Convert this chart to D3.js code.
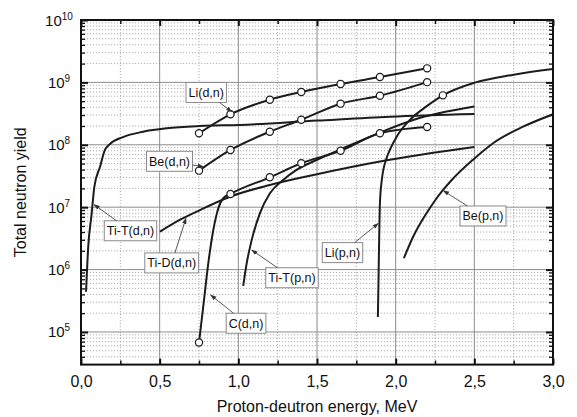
<!DOCTYPE html>
<html><head><meta charset="utf-8">
<script src="https://cdn.jsdelivr.net/npm/d3@7"></script>
<style>body{margin:0;background:#fff} svg{display:block} text{font-family:"Liberation Sans",Arial,sans-serif;fill:#111}</style>
</head><body>
<svg id="c" width="577" height="417"></svg>
<script>
// ---------- data ----------
const xMajorTicks = [0, 0.5, 1.0, 1.5, 2.0, 2.5, 3.0];
const xMinorTicks = [0.25, 0.75, 1.25, 1.75, 2.25, 2.75];
const yMajorExponents = [5, 6, 7, 8, 9, 10];

const markerE   = [0.75, 0.95, 1.2, 1.4, 1.65, 1.9, 2.2];
const liDnYield = [1.53e8, 3.08e8, 5.28e8, 7.0e8, 9.4e8, 1.22e9, 1.68e9];
const beDnYield = [3.85e7, 8.26e7, 1.62e8, 2.52e8, 4.56e8, 6.12e8, 1.01e9];
const cDnYield  = [6.8e4, 1.63e7, 3.01e7, 5.05e7, 8.04e7, 1.53e8, 1.93e8];
// steep rise of C(d,n) between first two markers
const cDnRiseE  = [0.777, 0.809, 0.841, 0.873, 0.904];
const cDnRiseY  = [2.54e5, 1.26e6, 4.31e6, 9.6e6, 1.39e7];

const tiTdnE = [0.032, 0.046, 0.068, 0.085, 0.121, 0.152, 0.184, 0.267, 0.394, 0.544, 0.756, 1.01, 1.5, 1.963, 2.5];
const tiTdnY = [4.4e5, 2.33e6, 7.98e6, 2.13e7, 4.46e7, 8.26e7, 1.03e8, 1.33e8, 1.62e8, 1.84e8, 2.0e8, 2.08e8, 2.44e8, 2.82e8, 3.12e8];

const tiDdnE = [0.502, 0.63, 0.756, 0.947, 1.2, 1.5, 1.9, 2.5];
const tiDdnY = [4.05e6, 6.3e6, 9.0e6, 1.47e7, 2.27e7, 3.38e7, 5.4e7, 9.2e7];

const tiTpnE = [1.031, 1.053, 1.085, 1.137, 1.201, 1.285, 1.370, 1.497, 1.688, 1.90, 2.111, 2.5];
const tiTpnY = [5.5e5, 1.26e6, 2.98e6, 7.98e6, 1.67e7, 2.73e7, 3.95e7, 5.7e7, 9.3e7, 1.57e8, 2.5e8, 4.1e8];

const liPnE = [1.887, 1.891, 1.895, 1.900, 1.912, 1.942, 1.963, 2.01, 2.09, 2.20, 2.30, 2.503, 2.75, 3.0];
const liPnY = [1.74e5, 6.8e5, 2.98e6, 1.17e7, 2.73e7, 6.1e7, 8.26e7, 1.4e8, 2.5e8, 4.2e8, 6.2e8, 9.9e8, 1.33e9, 1.64e9];
const liPnMarkerE = [2.30];
const liPnMarkerY = [6.2e8];

const bePnE = [2.052, 2.111, 2.196, 2.249, 2.30, 2.355, 2.492, 2.619, 2.81, 3.0];
const bePnY = [1.52e6, 3.36e6, 8.0e6, 1.27e7, 1.87e7, 2.7e7, 5.77e7, 1.06e8, 1.95e8, 3.08e8];

const labelNames = ["Li(d,n)", "Be(d,n)", "Ti-T(d,n)", "Ti-D(d,n)", "C(d,n)", "Ti-T(p,n)", "Li(p,n)", "Be(p,n)"];
const labelAtE   = [0.796, 0.5625, 0.3146, 0.5765, 1.049, 1.341, 1.662, 2.555];
const labelAtY   = [6.9e8, 5.44e7, 4.19e6, 1.28e6, 1.38e5, 7.4e5, 1.87e6, 7.23e6];
const labelToE   = [0.958, 0.777, 0.083, 0.667, 0.824, 1.085, 1.89, 2.303];
const labelToY   = [3.39e8, 4.46e7, 1.1e7, 6.64e6, 3.92e5, 2.06e6, 5.52e6, 1.84e7];

const xTitle = "Proton-deutron energy, MeV";
const yTitle = "Total neutron yield";

// ---------- layout ----------
const L = 81, R = 553, T = 20, B = 364.6;
const svg = d3.select("#c");
const x = d3.scaleLinear().domain([0, 3]).range([L, R]);
const y = d3.scaleLog().domain([3e4, 1e10]).range([B, T]);

const yMinor = [];
for (let k = 4; k <= 9; k++) for (let m = 2; m <= 9; m++) { const v = m * Math.pow(10, k); if (v > 3e4 && v < 1e10) yMinor.push(v); }
const yMajor = yMajorExponents.map(e => Math.pow(10, e));

const grid = svg.append("g");
grid.selectAll(".hm").data(yMinor).join("line")
  .attr("x1", L).attr("x2", R).attr("y1", d => y(d)).attr("y2", d => y(d))
  .attr("stroke", "#9a9a9a").attr("stroke-width", 0.8).attr("stroke-dasharray", "1.2,1.8");
grid.selectAll(".vm").data(xMinorTicks).join("line")
  .attr("y1", T).attr("y2", B).attr("x1", d => x(d)).attr("x2", d => x(d))
  .attr("stroke", "#9a9a9a").attr("stroke-width", 0.8).attr("stroke-dasharray", "1.2,1.8");
grid.selectAll(".hM").data(yMajor.filter(v => v < 1e10)).join("line")
  .attr("x1", L).attr("x2", R).attr("y1", d => y(d)).attr("y2", d => y(d))
  .attr("stroke", "#8c8c8c").attr("stroke-width", 1);
grid.selectAll(".vM").data(xMajorTicks.filter(v => v > 0 && v < 3)).join("line")
  .attr("y1", T).attr("y2", B).attr("x1", d => x(d)).attr("x2", d => x(d))
  .attr("stroke", "#8c8c8c").attr("stroke-width", 1);

// ---------- axes (inward ticks) ----------
const fmtX = d => d.toFixed(1).replace(".", ",");
function styleAxis(g) { g.select(".domain").remove(); g.selectAll("line").attr("stroke", "#111"); }
svg.append("g").attr("transform", `translate(0,${B})`)
  .call(d3.axisBottom(x).tickValues(xMajorTicks).tickSize(-6).tickPadding(11).tickFormat(fmtX))
  .call(styleAxis)
  .call(g => g.selectAll("line").attr("stroke-width", 2))
  .call(g => g.selectAll("text").attr("font-size", 16).attr("font-family", '"Liberation Sans",Arial,sans-serif').attr("fill", "#111"));
svg.append("g").attr("transform", `translate(0,${B})`)
  .call(d3.axisBottom(x).tickValues(xMinorTicks).tickSize(-4).tickFormat(""))
  .call(styleAxis).call(g => g.selectAll("line").attr("stroke-width", 1.5));
svg.append("g").attr("transform", `translate(0,${T})`)
  .call(d3.axisTop(x).tickValues(xMajorTicks).tickSize(-6).tickFormat(""))
  .call(styleAxis).call(g => g.selectAll("line").attr("stroke-width", 2));
svg.append("g").attr("transform", `translate(0,${T})`)
  .call(d3.axisTop(x).tickValues(xMinorTicks).tickSize(-4).tickFormat(""))
  .call(styleAxis).call(g => g.selectAll("line").attr("stroke-width", 1.5));
[[L, d3.axisLeft], [R, d3.axisRight]].forEach(([px, ax]) => {
  svg.append("g").attr("transform", `translate(${px},0)`)
    .call(ax(y).tickValues(yMajor).tickSize(-7).tickFormat(""))
    .call(styleAxis).call(g => g.selectAll("line").attr("stroke-width", 2));
  svg.append("g").attr("transform", `translate(${px},0)`)
    .call(ax(y).tickValues(yMinor).tickSize(-4).tickFormat(""))
    .call(styleAxis).call(g => g.selectAll("line").attr("stroke-width", 1.3));
});

// y tick labels 10^n
const yl = svg.append("g").selectAll("text").data(yMajorExponents).join("text")
  .attr("x", 59).attr("y", d => y(Math.pow(10, d)) + 5.5)
  .attr("text-anchor", "middle").attr("font-size", 15);
yl.append("tspan").text("10");
yl.append("tspan").attr("font-size", 10).attr("dy", -6).text(d => d);

// frame
svg.append("rect").attr("x", L).attr("y", T).attr("width", R - L).attr("height", B - T)
  .attr("fill", "none").attr("stroke", "#111").attr("stroke-width", 2);

// titles
svg.append("text").attr("x", (L + R) / 2).attr("y", 412).attr("text-anchor", "middle")
  .attr("font-size", 16).text(xTitle);
svg.append("text").attr("transform", `translate(26,${(T + B) / 2}) rotate(-90)`)
  .attr("text-anchor", "middle").attr("font-size", 16).text(yTitle);

// ---------- curves ----------
const clip = svg.append("clipPath").attr("id", "pc").append("rect")
  .attr("x", L).attr("y", T).attr("width", R - L).attr("height", B - T);
const plot = svg.append("g").attr("clip-path", "url(#pc)");
const line = d3.line().x(d => x(d[0])).y(d => y(d[1])).curve(d3.curveMonotoneX);
const zip = (a, b) => a.map((v, i) => [v, b[i]]);

const cDnCurve = zip([markerE[0], ...cDnRiseE, ...markerE.slice(1)], [cDnYield[0], ...cDnRiseY, ...cDnYield.slice(1)]);
const series = [
  zip(tiTdnE, tiTdnY), zip(tiDdnE, tiDdnY), zip(tiTpnE, tiTpnY),
  zip(liPnE, liPnY), zip(bePnE, bePnY),
  zip(markerE, liDnYield), zip(markerE, beDnYield), cDnCurve
];
plot.selectAll("path.s").data(series).join("path")
  .attr("d", line).attr("fill", "none").attr("stroke", "#1c1c1c").attr("stroke-width", 2);

const markers = [...zip(markerE, liDnYield), ...zip(markerE, beDnYield), ...zip(markerE, cDnYield), ...zip(liPnMarkerE, liPnMarkerY)];
svg.append("g").selectAll("circle").data(markers).join("circle")
  .attr("cx", d => x(d[0])).attr("cy", d => y(d[1])).attr("r", 3.6)
  .attr("fill", "#fff").attr("stroke", "#1c1c1c").attr("stroke-width", 1.2);

// ---------- labels with arrows ----------
svg.append("defs").append("marker").attr("id", "ah").attr("viewBox", "0 0 10 10")
  .attr("refX", 9).attr("refY", 5).attr("markerWidth", 7).attr("markerHeight", 7).attr("orient", "auto")
  .append("path").attr("d", "M0,1.5 L10,5 L0,8.5 Z").attr("fill", "#333");

const ann = svg.append("g");
labelNames.forEach((name, i) => {
  const cx = x(labelAtE[i]), cy = y(labelAtY[i]);
  const tx = x(labelToE[i]), ty = y(labelToY[i]);
  const g = ann.append("g");
  const t = g.append("text").attr("x", cx).attr("y", cy + 4.5).attr("text-anchor", "middle")
    .attr("font-size", 12.5).text(name);
  const bb = t.node().getBBox();
  const hw = bb.width / 2 + 2.5, hh = 10;
  g.insert("rect", "text").attr("x", cx - hw).attr("y", cy - hh).attr("width", 2 * hw).attr("height", 2 * hh)
    .attr("fill", "#fff").attr("stroke", "#8a8a8a").attr("stroke-width", 1);
  const dx = tx - cx, dy = ty - cy;
  const s = Math.min(Math.abs(dx) > 0 ? hw / Math.abs(dx) : Infinity, Math.abs(dy) > 0 ? hh / Math.abs(dy) : Infinity);
  g.append("line").attr("x1", cx + dx * s).attr("y1", cy + dy * s).attr("x2", tx).attr("y2", ty)
    .attr("stroke", "#444").attr("stroke-width", 0.9).attr("marker-end", "url(#ah)");
});
</script></body></html>
